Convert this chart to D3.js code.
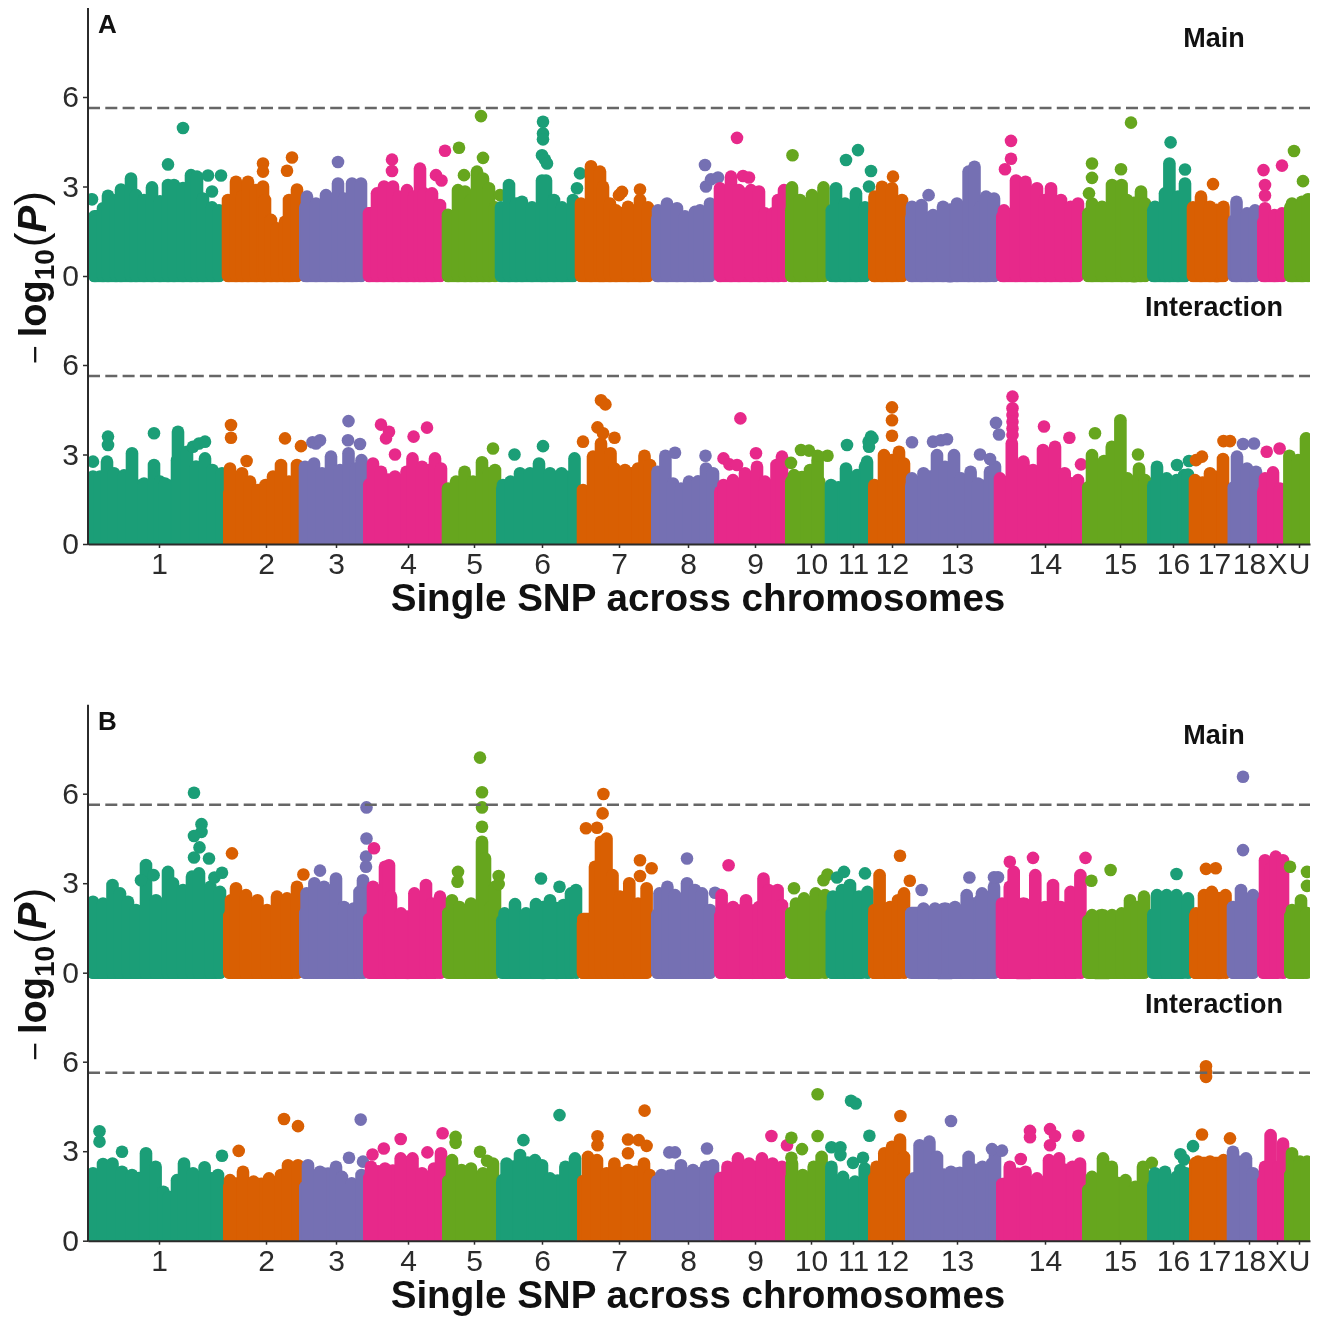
<!DOCTYPE html>
<html><head><meta charset="utf-8">
<script src="https://cdn.jsdelivr.net/npm/d3@7"></script>
<style>html,body{margin:0;padding:0;background:#fff}svg{display:block;filter:blur(0.6px)}text{font-family:"Liberation Sans",Arial,sans-serif}</style>
</head><body><svg id="c" width="1322" height="1317"></svg>
<script>
const chrNames=["1","2","3","4","5","6","7","8","9","10","11","12","13","14","15","16","17","18","X","U"];
const chrEnds=[135,211,275,354,408,489,563,626,697,737.5,780,817,908,994,1059,1101,1139.5,1169,1196,1222];
const chrTicks=[71,178,248,320,386,454,531,600,667,723,765,804,869,957,1032,1085,1126,1161,1189,1211];
const yTicks=[0,3,6];
const threshold=5.63;
const colors=["#1B9E77","#D95F02","#7570B3","#E7298A","#66A61E"];

const aMainFloor=[2.0,1.5,2.3,2.1,2.0,2.1,2.1,1.9,1.85,2.2,2.2,2.1,1.95,2.0,2.1,2.2,2.0,1.85,1.8,2.3];
const aMainPeaks=[[7,1.82],[15,2.27],[20,2.69],[28,2.55],[33,2.9],[43,3.27],[48,2.71],[56,2.55],[64,2.97],[72,2.5],[80,3.05],[86,3.05],[95,2.95],[103,3.38],[109,3.33],[115,2.6],[124,2.3],[131,2.2],
[140,2.55],[148,3.16],[154,2.66],[160,3.16],[168,2.88],[175,3.0],[177,2.55],[183,1.88],[189,1.6],[197,1.82],[201,2.55],[209,2.9],
[219,2.66],[228,2.43],[238,2.71],[250,3.1],[256,2.6],[264,3.1],[273,3.1],
[281,2.1],[289,2.77],[296,3.0],[305,3.0],[311,2.66],[319,2.88],[326,2.66],[332,3.6],[336,2.77],[344,2.77],[352,2.38],
[360,2.05],[370,2.88],[377,2.83],[383,2.55],[389,3.5],[395,3.27],[401,2.94],[407,2.3],
[413,2.3],[421,3.05],[428,2.43],[434,2.49],[444,2.3],[454,3.2],[458,3.2],[466,2.55],[474,2.3],[485,2.55],
[493,2.43],[503,3.68],[512,3.5],[515,2.99],[522,2.43],[528,2.2],[540,2.32],[552,2.55],[560,2.3],
[570,2.2],[579,2.43],[589,2.27],[597,2.0],[607,2.15],[612,2.2],[622,2.43],
[632,2.94],[643,3.33],[651,2.88],[663,2.88],[671,2.83],[677,2.1],[685,2.1],[690,2.55],[696,2.88],
[704,2.97],[712,2.55],[724,2.71],[735.5,2.97],
[748,2.94],[757,2.43],[768,2.77],[777,2.3],
[786.5,2.66],[794,2.99],[804,2.94],[814,2.55],
[824,2.32],[833.5,2.38],[845,2.04],[855,2.32],[869,2.43],[880.6,3.5],[886.5,3.66],[892,2.3],[898,2.66],[906,2.6],
[916,2.2],[928,3.2],[937.5,3.16],[949,2.94],[957,2.55],[963,2.94],[973,2.55],[982.6,2.32],[990,2.43],
[1004,2.43],[1014,2.32],[1024,3.05],[1033.6,3.05],[1039,2.55],[1053,2.83],[1057,2.43],
[1067,2.32],[1077,2.77],[1081.4,3.77],[1090,2.66],[1097,3.1],
[1105,2.3],[1113,2.66],[1122,2.32],[1135.5,2.32],
[1148.5,2.49],[1159,2.1],[1167,2.2],
[1177,2.27],[1186.5,2.04],[1194,2.1],
[1204,2.43],[1214,2.49],[1220,2.57]];
const aMainFloats=[[4,2.57],[80,3.74],[95,4.96],[120,3.37],[133,3.37],[124,2.83],[175,3.77],[175,3.5],[199,3.53],[204,3.97],[250,3.82],[304,3.9],[304,3.52],[348,3.38],[353.5,3.2],[357,4.2,3],
[371,4.3],[376,3.38],[393,5.36],[395,3.96],[412,2.71,4],[455,5.17],[455,4.78],[455,4.58],[454,4.05],[457,3.9],[459,3.77],[492,3.44,5],[489,2.94,5],[531,2.71],[534,2.82],[552,2.9],
[617,3.72],[618,3.0],[623,3.24],[630,3.3,7],[649,4.63],[655,3.35],[661,3.3],[704.5,4.05],[758,3.89],[770,4.22],[783,3.52,10],[781,3.0,10],[805,3.33],[840.6,2.71],[923,4.53],[923,3.93],[917,3.58],
[1004,3.77],[1004,3.29],[1001,2.77],[1033,3.58],[1043,5.14],[1082.6,4.48],[1097,3.57],[1125,3.08],[1175.5,3.55],[1177,3.05],[1177,2.7],[1194,3.7],[1206,4.19],[1215,3.18]];

const aIntFloor=[1.95,1.7,2.0,2.0,1.6,1.85,1.7,1.65,1.75,2.1,1.6,1.9,1.95,1.8,1.9,1.95,1.6,1.9,1.75,2.0];
const aIntPeaks=[[5,2.26],[12,2.26],[19,2.76],[26,2.37],[36,2.3],[44,3.04],[56,2.03],[66,2.65],[72,2.09],[77,2.03],[89,2.81],[90,3.76],[99,3.09],[108,2.6],[117,2.87],[124.5,2.48],[134,2.37],
[142,2.53],[154,2.37],[162,2.09],[170,1.81],[177.5,1.98],[185,2.26],[193,2.65],[201,2.09],[209,2.65],
[217,2.59],[226,2.7],[234,2.37],[243,2.93],[252,2.48],[260.5,3.04],[268,2.53],[273.5,2.81],
[285,2.7],[293,2.42],[307,2.26],[318.5,2.42],[324.5,2.87],[334,2.59],[347,2.87],[353,2.53],
[360,1.86],[368,2.09],[376.6,2.42],[385,2.09],[394,2.74],[401,2.37],[407,2.48],
[415,1.98],[422.5,2.09],[432,2.37],[442,2.37],[451,2.7],[462,2.37],[473.5,2.37],[486.5,2.87],
[495,1.81],[505,2.93],[513,3.37],[522.5,3.04],[526.5,2.53],[537,2.48],[550,2.53],[556.5,2.96],[562,2.65],
[569.5,2.42],[577.4,2.96],[585,2.03],[593,1.86],[601,2.09],[610,2.1],[618,2.53],[625,2.37],
[635.5,1.98],[645,2.14],[657,2.37],[669,2.59],[677,2.09],[688.5,2.65],[694,2.93],
[706,2.31],[722,2.48],[729.6,2.81],
[743,1.98],[758,2.53],[769,2.31],[777,2.59],[779,2.76],
[786.5,1.98],[796,2.98],[804,2.81],[811,3.09],[816,2.7],
[824,2.2],[835.5,2.37],[849,2.98],[857,2.59],[866,2.98],[873,2.2],[882.6,2.42],[890,2.03],[902,2.42],[907,2.6],
[912,2.2],[923.8,3.37],[935.5,2.76],[945,2.48],[955,3.15],[967,3.26],[976.7,2.37],[990,2.14],
[1004,2.98],[1016,2.78],[1023.8,3.26],[1032.4,4.15],[1039.5,2.2],[1051,2.53],[1057,2.14],
[1069,2.59],[1078.7,2.2],[1088.5,2.14],[1096,2.31],[1100,2.33],
[1107,2.14],[1122,2.37],[1135,2.85],
[1149,2.93],[1159,2.53],[1168,2.42],
[1177,2.2],[1185,2.4],[1192,1.86],
[1201.4,2.96],[1210,2.81],[1218,3.54]];
const aIntFloats=[[5,2.76],[20,3.6],[20,3.32],[66,3.71],[105,3.26],[111,3.37],[117,3.43],[143,3.99],[143,3.56],[158.6,2.78],[197,3.54],[213,3.28,1],[224.5,3.41],[228,3.37],[232,3.48],[260.5,4.12],[260,3.48],[272,3.35],
[293,4.0],[301,3.76],[298,3.54],[307,3.0],[325.6,3.6],[339,3.9],[405,3.2],[426.5,3.0],[455,3.28],[513,4.82],[517.4,4.68],[509.5,3.91],[515,3.71],[495,3.43],[526.5,3.56],[587,3.06],[617.5,2.96],
[652.4,4.21],[635.5,2.87],[641.4,2.67],[649,2.65],[668,3.04],[703,2.72],[713,3.15],[721,3.13],[739.5,2.96,9],[729.6,2.96],[759,3.32],[780.6,3.43,10],[783,3.6,10],[784.5,3.54,10],[781,3.26,10],
[804,4.58],[804,4.15],[804,3.63],[824,3.41],[845,3.43],[853,3.48],[859,3.51],[892,3.0],[902,2.85],[908,4.06,12],[911,3.67,12],[924.5,4.94],[924.5,4.55],[924.5,4.32],[924.5,4.1],[924.5,3.87],[924.5,3.65],[956,3.94],[981.4,3.56],[993,2.67],
[1007,3.71],[1050,3.0],[1089,2.65],[1101,2.78,15],[1108,2.81],[1114,2.93],[1135.5,3.45],[1142,3.45,16],[1155,3.35],[1166,3.37],[1178.7,3.09],[1191.6,3.2]];

const bMainFloor=[2.05,1.9,2.0,1.8,2.0,1.75,1.8,1.95,1.9,2.0,2.0,1.95,2.0,2.0,1.75,1.95,1.9,2.0,2.4,1.9];
const bMainPeaks=[[5,2.38],[15,2.32],[24.5,2.94],[32,2.66],[40,2.38],[48,2.1],[58,3.61],[68,2.43],[80,3.38],[85,3.0],[95,2.77],[104,3.22],[111,3.33],[122.5,2.88],[132,2.71],
[143,2.43],[148,2.83],[158,2.6],[169.5,2.43],[179,2.1],[189,2.55],[199,2.49],[209,2.88],
[218.6,2.66],[226.4,3.0],[236,2.88],[248,3.16],[256,2.2],[265.6,2.15],[271.5,2.71],[275,3.1],
[285,2.88],[297,3.55],[301,3.6],[303,2.55],[313,1.99],[326.4,2.66],[338,2.94],[344,2.32],[352,2.55],
[364,2.43],[371.5,2.2],[383,2.32],[394,4.39],[397,3.83],[403,2.2],[407,2.88],
[416.6,1.99],[427,2.3],[438,1.99],[448,2.3],[462,2.43],[475.4,2.27],[483,2.66],[488,2.77],
[495,1.65],[507,3.55],[513,4.39],[518.5,4.5],[524.5,3.27],[532,2.55],[541.3,3.0],[550,2.32],[558.6,2.83],
[571.5,2.66],[579.4,2.88],[587,2.6],[599,3.0],[607,2.77],[614,2.66],[622,2.1],
[633.6,2.6],[645,2.2],[658,2.43],[671,2.2],[675.5,3.16],[680.6,2.77],[689.6,2.77],[694,2.27],
[708,2.32],[716,2.49],[727.7,2.66],[737,2.6],
[745,2.55],[754,2.77],[762,2.94],[771,2.55],[779.5,2.71],
[786.5,2.1],[791.6,3.27],[802,2.2],[810,2.43],[816,2.66],
[835.5,2.15],[847,2.15],[867,2.2],[878.7,2.6],[892,2.43],[894,2.66],[906,2.88],
[914,2.32],[921.8,2.88],[925.7,3.38],[945.3,2.32],[947.3,3.27],[957,2.2],[965,2.94],[972.8,2.2],[982.6,2.71],[992.4,3.27],
[1004,1.93],[1024,1.93],[1033.6,1.99],[1042,2.43],[1049,2.2],[1056,2.55],
[1069,2.6],[1078.7,2.6],[1088.5,2.6],[1100,2.49],
[1108,1.99],[1116,2.6],[1123.8,2.71],[1137.5,2.6],
[1145,2.2],[1153,2.77],[1165,2.6],
[1177,3.77],[1183,3.5],[1187.7,3.89],[1195,3.77],
[1204,2.1],[1213,2.43],[1219,2.0]];
const bMainFloats=[[106,6.03],[113.5,4.98],[113.5,4.72],[106,4.58],[111.5,4.2],[106,3.86],[121,3.83],[53,3.1],[65.6,3.27],[126.4,3.19],[134,3.35],[144,4.0],[215.4,3.29,1],[232,3.42],
[278.5,5.54,2],[278.5,4.5,2],[278,3.89,2],[278,3.55,2],[272.7,2.66],[286,4.17],[392,7.21],[394,6.05],[394,5.54],[394,4.89],[370,3.38],[369.5,3.05],[410.7,3.24,4],[410.7,2.97,4],[453,3.16],[471.5,2.88],
[515.4,5.99],[514.6,5.34],[498,4.84],[509,4.86],[552,3.77],[563.6,3.5,6],[552,3.24],[599,3.83],[627,2.68,7],[640.6,3.6],[706,2.83],[735.5,3.1],[739.5,3.29,9],[749,3.19],[756,3.38],[777,3.33],
[812,3.92],[821.8,3.08,11],[833.6,2.77],[881.4,3.19],[910,3.2,12],[906,3.2],[921.8,3.72],[945,3.85],[997.5,3.85,13],[1003.4,3.08],[1022.6,3.44],[1088.5,3.31],[1118,3.48],[1127.7,3.5],[1155,6.57],[1155,4.11],[1202,3.55],[1219,3.38],[1219,2.91]];

const bIntFloor=[1.4,1.8,1.8,2.1,2.0,1.9,2.0,2.0,2.1,2.1,1.8,2.1,2.0,1.9,1.7,1.85,2.6,1.95,2.0,2.2];
const bIntPeaks=[[5,2.26],[15,2.57],[24.5,2.59],[34,2.31],[44,2.2],[58,2.93],[67.6,2.48],[75.4,1.64],[81,1.47],[89,2.03],[96,2.59],[105,2.26],[116.6,2.46],[130,2.2],
[142,2.03],[155,2.31],[165.6,1.98],[181,2.09],[193,2.2],[200,2.53],[210,2.53],
[220,2.53],[232,2.31],[248,2.48],[254,2.14],[263.7,1.92],[273.5,2.2],
[283,2.48],[297,2.42],[312.7,2.76],[324.5,2.76],[334,2.26],[346,2.42],[353,2.93],
[364,2.7],[373.5,2.37],[383,2.42],[395,2.26],[405,2.59],
[414.6,2.03],[418.6,2.59],[432,2.87],[447,2.7],[454,2.53],[462,2.09],[477.4,2.48],[487,2.76],
[500,2.81],[509,2.7],[518.6,2.26],[526.4,2.59],[540,2.37],[556,2.59],[561.7,2.2],
[573.5,2.2],[593,2.53],[605,2.37],[618,2.48],[625,2.53],
[639.5,2.48],[650,2.76],[661,2.59],[674,2.76],[684.5,2.59],[694,2.48],
[704,2.59],[714.7,2.2],[725.7,2.48],[733.6,2.81],
[743.4,2.48],[755,2.14],[767,1.98],[776.7,2.42],
[788.5,2.48],[796.3,2.93],[804,3.15],[812,3.39],[816,2.81],
[825.7,2.09],[831.6,3.2],[841.4,3.32],[849,2.81],[863,2.31],[880.6,2.81],[894.4,2.48],[904,2.59],[907,2.98],
[921.8,2.48],[937.5,2.31],[949,2.09],[961,2.7],[971,2.76],[984.5,2.48],[992,2.59],
[1004,2.14],[1015,2.76],[1023.8,2.48],[1037.5,2.03],[1047.3,1.81],[1055,2.48],
[1067,2.26],[1077,2.31],[1088.5,2.14],[1092.4,2.37],[1098,2.26],
[1110,2.65],[1122,2.65],[1135.5,2.7],
[1145,2.98],[1158,2.76],[1165,2.26],
[1177,2.48],[1182.6,3.54],[1190.4,2.48],[1195,3.26],
[1204,2.93],[1212,2.65],[1219,2.65]];
const bIntFloats=[[11.5,3.67],[11.5,3.32],[34,2.98],[134,2.85],[150.7,3.01],[196,4.08],[210,3.84],[272.7,4.06],[261,2.78],[275,2.65,2],[284.5,2.89],[295.8,3.09],[312.7,3.41],[339.4,2.96],[354.6,3.6,3],
[367.6,3.48],[367.6,3.28],[392,2.98],[399,2.68],[435.4,3.37],[471.5,4.21],[509.5,3.5],[509.5,3.2],[540,3.39],[550.7,3.37],[558.6,3.18],[540,2.93],[556.6,4.36],[581.3,2.96],[587,2.96],[619,3.09],
[683.4,3.51],[703.4,3.45],[714,3.07],[703.4,2.78],[729.6,4.91],[729.6,3.51],[699,3.2,8],[743.4,3.13],[752.4,3.13],[752.4,2.87],[765,2.61],[775,2.78],[763,4.69],[767.7,4.6],[781.4,3.52,10],
[812.4,4.18],[863,4.01],[904,3.07],[914,3.02,12],[932.8,2.74],[942,3.68],[942,3.47],[962,3.74],[967,3.51],[962,3.2],[990.4,3.52],[1063.8,2.61,14],[1092.4,2.9],[1096,2.72],[1105,3.17,15],[1118,5.85],[1118,5.66],[1118,5.49],[1114,3.56],[1142,3.43,16]];

const xTitle="Single SNP across chromosomes";
const R=6.3;
const svg=d3.select("#c");
const x=d3.scaleLinear().domain([0,1222]).range([88,1310]);
const chrOf=p=>Math.min(d3.bisectLeft(chrEnds,p),chrEnds.length-1);
const ink="#2b2b2b";

function row(g,y0,floor,peaks,floats,clipId){
  const y=d3.scaleLinear().domain([0,6]).range([y0,y0-179]);
  const bottom=clipId.startsWith("int")?y0:y0+R+0.2;
  svg.append("clipPath").attr("id",clipId).append("rect").attr("x",88).attr("y",y0-260).attr("width",1222).attr("height",bottom-y0+260);
  const L=g.append("g").attr("clip-path",`url(#${clipId})`);
  chrNames.forEach((n,i)=>{
    const c=colors[i%5], g2=L.append("g").attr("fill",c).attr("stroke",c);
    const s=i?chrEnds[i-1]:0;
    const own=peaks.filter(d=>chrOf(d[0])===i);
    g2.append("rect").attr("x",x(s)).attr("width",x(chrEnds[i])-x(s)).attr("y",y(floor[i])-R).attr("height",y(0)-y(floor[i])+2*R).attr("rx",R).attr("stroke","none");
    // the mass of overlapping points between two neighbouring peaks reaches the lower of them
    g2.selectAll("line.fillin").data(d3.pairs(own)).join("line").attr("class","fillin")
      .attr("x1",d=>x((d[0][0]+d[1][0])/2)).attr("x2",d=>x((d[0][0]+d[1][0])/2))
      .attr("y1",d=>y(Math.min(d[0][1],d[1][1])-0.12)).attr("y2",y(0))
      .attr("stroke-width",d=>Math.max(2,x(d[1][0])-x(d[0][0])))
      .attr("stroke-linecap","round");
    g2.selectAll("line.peak").data(own).join("line").attr("class","peak")
      .attr("x1",d=>x(d[0])).attr("x2",d=>x(d[0])).attr("y1",d=>y(d[1])).attr("y2",y(0))
      .attr("stroke-width",2*R).attr("stroke-linecap","round");
    g2.selectAll("circle").data(floats.filter(d=>(d.length>2?d[2]:chrOf(d[0]))===i)).join("circle")
      .attr("cx",d=>x(d[0])).attr("cy",d=>y(d[1])).attr("r",R).attr("stroke","none");
  });
  g.append("line").attr("x1",88).attr("x2",1310).attr("y1",y(threshold)).attr("y2",y(threshold))
   .attr("stroke","#666").attr("stroke-width",2.4).attr("stroke-dasharray","12 5.3");
  const ax=g.append("g").attr("transform","translate(88,0)").call(d3.axisLeft(y).tickValues(yTicks).tickFormat(d3.format("d")).tickSize(5).tickPadding(4));
  ax.select(".domain").remove();
  ax.selectAll("line").attr("stroke",ink).attr("stroke-width",1.5);
  ax.selectAll("text").attr("font-size",30).attr("fill",ink).attr("font-family","Liberation Sans");
}

function panel(dy,letter,mf,mp,mo,nf,np,no,id){
  const g=svg.append("g").attr("transform",`translate(0,${dy})`);
  row(g,276,mf,mp,mo,"main"+id);
  row(g,544,nf,np,no,"int"+id);
  const xa=g.append("g").attr("transform","translate(0,544)").call(d3.axisBottom(x).tickValues(chrTicks).tickFormat((d,i)=>chrNames[i]).tickSize(4).tickPadding(5).tickSizeOuter(0));
  xa.select(".domain").attr("stroke",ink).attr("stroke-width",2);
  xa.selectAll("line").attr("stroke",ink).attr("stroke-width",1.5);
  xa.selectAll("text").attr("font-size",30).attr("fill",ink).attr("font-family","Liberation Sans");
  g.append("line").attr("x1",88).attr("x2",88).attr("y1",8).attr("y2",545).attr("stroke",ink).attr("stroke-width",2);
  g.append("text").attr("x",98).attr("y",33).attr("font-size",26).attr("font-weight","bold").attr("fill","#111").text(letter);
  g.append("text").attr("x",1214).attr("y",47).attr("text-anchor","middle").attr("font-size",27).attr("font-weight","bold").attr("fill","#111").text("Main");
  g.append("text").attr("x",1214).attr("y",316).attr("text-anchor","middle").attr("font-size",27).attr("font-weight","bold").attr("fill","#111").text("Interaction");
  g.append("text").attr("x",698).attr("y",611).attr("text-anchor","middle").attr("font-size",38.6).attr("font-weight","bold").attr("fill","#111").text(xTitle);
  const t=g.append("text").attr("transform","translate(46,364) rotate(-90)").attr("fill","#111");
  t.append("tspan").attr("font-size",32).text("−");
  t.append("tspan").attr("dx",8).attr("font-size",38).attr("font-weight","bold").text("log");
  t.append("tspan").attr("dy",8).attr("font-size",28).attr("font-weight","bold").text("10");
  t.append("tspan").attr("dy",-8).attr("dx",2).attr("font-size",44).text("(");
  t.append("tspan").attr("font-size",40).attr("font-weight","bold").attr("font-style","italic").text("P");
  t.append("tspan").attr("font-size",44).text(")");
}
panel(0,"A",aMainFloor,aMainPeaks,aMainFloats,aIntFloor,aIntPeaks,aIntFloats,"A");
panel(696.7,"B",bMainFloor,bMainPeaks,bMainFloats,bIntFloor,bIntPeaks,bIntFloats,"B");
</script></body></html>
